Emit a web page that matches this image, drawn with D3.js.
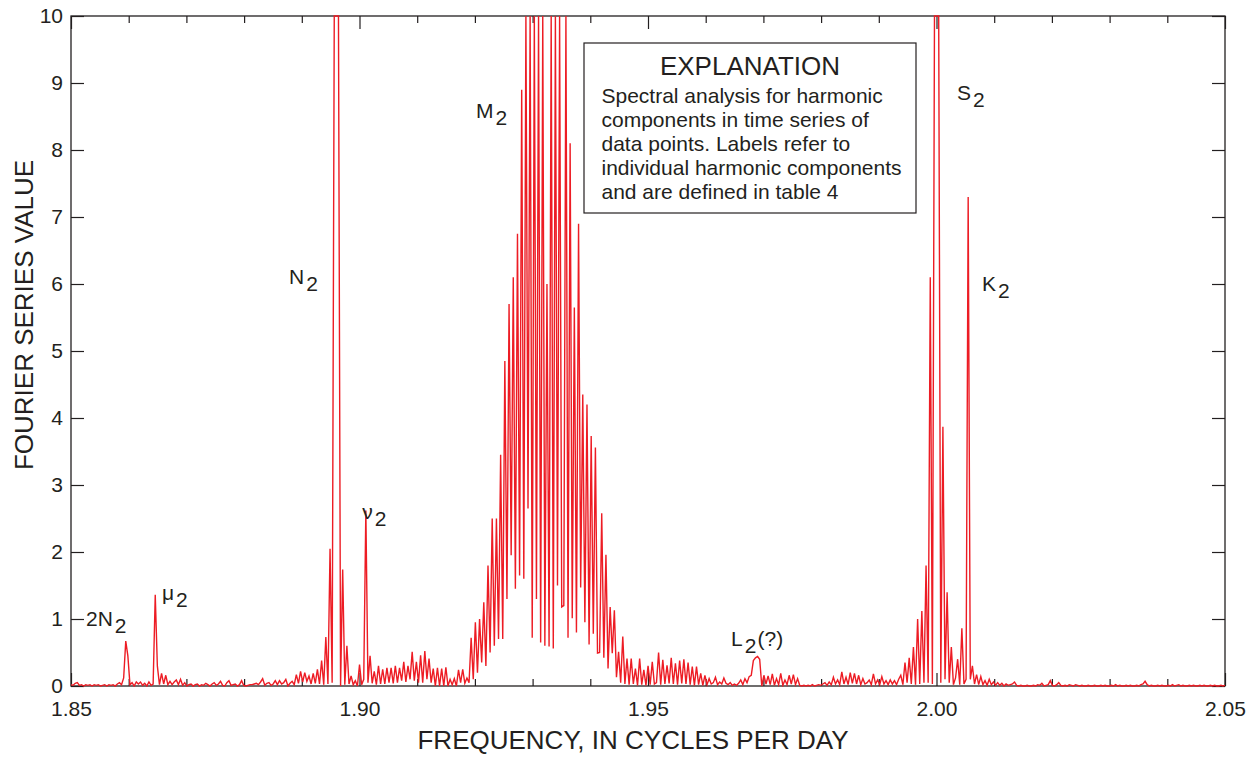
<!DOCTYPE html>
<html>
<head>
<meta charset="utf-8">
<script src="https://cdn.jsdelivr.net/npm/d3@7"></script>
<style>
  html, body { margin: 0; padding: 0; background: #fff; }
  svg text { font-family: "Liberation Sans", Arial, Helvetica, sans-serif; fill: #231f20; }
</style>
</head>
<body>
<svg id="chart" width="1255" height="757"></svg>
<script>
// Fourier spectrum of the semidiurnal band, sampled on a uniform frequency grid.
const FIRST_FREQ = 1.85;      // cycles per day at bin 0
const BIN_WIDTH = 0.000365;   // cycles per day between bins

// Spectral amplitude by band; each band starts at the bin given in `bands`.
const lowBand = [
  0.02,0.01,0.04,0.05,0.01,0.02,0.00,0.02,0.01,0.02,
  0.00,0.02,0.01,0.02,0.00,0.01,0.02,0.00,0.02,0.01,
  0.02,0.00,0.03,0.05,0.02,0.12,0.67,0.45,0.02,0.05,
  0.00,0.06,0.03,0.06,0.01,0.04,0.00,0.06,0.01,0.03,
  1.36,0.30,0.02,0.19,0.03,0.16,0.02,0.07,0.02,0.06,
  0.09,0.02,0.10,0.01,0.05,0.00,0.02,0.03,0.00,0.02,
  0.03,0.00,0.02,0.01,0.04,0.02,0.00,0.03,0.05,0.01,
  0.03,0.07,0.01,0.00,0.05,0.08,0.01,0.02,0.03,0.00,
  0.02,0.08,0.01,0.00,0.01,0.02,0.02,0.03,0.04,0.02,
  0.06,0.11,0.01,0.04,0.05,0.01,0.03,0.08,0.02,0.08,
  0.03,0.05,0.10,0.00,0.04,0.07,0.02,0.17,0.04,0.22,
  0.06,0.20,0.07,0.15,0.03,0.19,0.04,0.25,0.03,0.38,
  0.02,0.73,0.03,2.05,0.05
];
const n2Band = [
  40,60,40,0.00,1.74,0.02,0.60,0.03,0.15,0.02,
  0.08,0.00,0.32,0.02,0.10,2.62,0.05,0.45,0.04,0.22,
  0.02,0.30,0.03
];
const midBand = [
  0.25,0.03,0.27,0.05,0.27,0.04,0.30,0.05,0.27,0.08,
  0.36,0.06,0.30,0.10,0.51,0.08,0.36,0.05,0.46,0.05,
  0.52,0.10,0.41,0.05,0.26,0.00,0.27,0.00,0.26,0.00,
  0.28,0.00,0.10,0.02,0.11,0.00,0.24,0.05,0.25,0.04,
  0.12,0.05
];
const m2Band = [
  0.72,0.10,0.95,0.20,1.00,0.35,1.25,0.30,1.80,0.50,
  2.50,0.60,2.50,0.70,3.45,0.70,4.85,1.30,5.70,1.95,
  6.10,1.45,6.75,1.65,8.90,1.60,14,2.65,18,0.72,
  22,1.30,25,0.65,20,0.60,6.0,0.59,18,0.56,
  24,1.50,20,1.18,1.20,16,0.72,8.10,1.01,5.65,
  0.80,6.90,1.47,4.35,0.95,4.20,0.62,3.73,0.78,3.56,
  0.49,0.50,2.58,0.42,1.96,0.26,1.18,0.49,1.13,0.13,
  0.51,0.05,0.74,0.03,0.41,0.02,0.41
];
const l2Band = [
  0.03,0.26,0.01,0.41,0.02,0.24,0.01,0.30,0.02,0.36,
  0.03,0.05,0.50,0.02,0.39,0.03,0.31,0.04,0.42,0.03,
  0.34,0.02,0.38,0.04,0.40,0.03,0.35,0.02,0.29,0.01,
  0.29,0.02,0.19,0.01,0.16,0.02,0.11,0.03,0.05,0.13,
  0.02,0.06,0.03,0.12,0.04,0.02,0.05,0.01,0.03,0.01,
  0.04,0.09,0.02,0.11,0.05,0.14,0.16,0.38,0.42,0.44,
  0.40,0.00,0.16,0.03,0.15,0.02,0.18,0.01,0.11,0.02,
  0.19,0.01,0.09,0.02,0.16,0.03,0.17,0.02,0.11,0.01,
  0.00,0.01,0.00,0.01,0.00,0.02,0.00,0.01,0.02,0.01,
  0.03,0.05,0.01,0.06,0.02,0.13,0.03,0.09,0.02,0.21,
  0.03,0.13,0.02,0.20,0.04,0.19,0.03,0.16,0.02,0.11,
  0.03,0.05,0.09,0.02,0.18,0.03,0.09,0.02,0.14,0.03,
  0.08,0.02,0.09,0.03,0.08,0.02,0.10
];
const s2Band = [
  0.16,0.02,0.35,0.05,0.42,0.03,0.58,0.02,1.00,0.03,
  1.12,0.05,1.80,0.05,6.10,0.03,30,50,30,0.05,
  3.87,0.10,1.40,0.05,0.58,0.02,0.12,0.40,0.02,0.86,
  0.03,0.10,7.30,0.10,0.30,0.03,0.17
];
const highBand = [
  0.02,0.14,0.02,0.08,0.01,0.10,0.02,0.06,0.01,0.05,
  0.01,0.04,0.00,0.03,0.01,0.02,0.03,0.06,0.01,0.00,
  0.01,0.00,0.00,0.01,0.00,0.00,0.01,0.00,0.02,0.01,
  0.04,0.00,0.01,0.02,0.08,0.01,0.00,0.02,0.05,0.01,
  0.00,0.01,0.00,0.02,0.01,0.00,0.02,0.01,0.00,0.01,
  0.00,0.00,0.01,0.00,0.00,0.01,0.00,0.00,0.01,0.00,
  0.01,0.00,0.00,0.01,0.00,0.02,0.00,0.01,0.00,0.00,
  0.01,0.00,0.01,0.00,0.00,0.01,0.00,0.02,0.03,0.07,
  0.02,0.00,0.01,0.00,0.00,0.01,0.00,0.01,0.00,0.00,
  0.01,0.00,0.02,0.00,0.01,0.02,0.00,0.01,0.00,0.00,
  0.01,0.00,0.01,0.00,0.00,0.01,0.00,0.01,0.00,0.00,
  0.01,0.00,0.01,0.00,0.00,0.01,0.00,0.01
];
const bands = [
  [0, lowBand], [125, n2Band], [148, midBand], [190, m2Band],
  [267, l2Band], [394, s2Band], [431, highBand]
];

// Axis ticks
const majorFreqTicks = [1.85, 1.90, 1.95, 2.00, 2.05];
const majorFreqLabels = ["1.85", "1.90", "1.95", "2.00", "2.05"];
const minorFreqTicks = [1.86,1.87,1.88,1.89,1.91,1.92,1.93,1.94,1.96,1.97,1.98,1.99,2.01,2.02,2.03,2.04];
const valueTicks = [0,1,2,3,4,5,6,7,8,9,10];

// Harmonic component labels: main letter, subscript, anchor in data units
const componentLabels = [
  { main: "2N", sub: "2", f: 1.8526, v: 0.90 },
  { main: "\u03bc", sub: "2", f: 1.86575, v: 1.28 },
  { main: "N",  sub: "2", f: 1.88778, v: 6.00 },
  { main: "\u03bd", sub: "2", f: 1.90048, v: 2.49 },
  { main: "M",  sub: "2", f: 1.92020, v: 8.48 },
  { main: "S",  sub: "2", f: 2.00355, v: 8.75 },
  { main: "K",  sub: "2", f: 2.00788, v: 5.90 },
  { main: "L",  sub: "2", tail: "(?)", f: 1.96440, v: 0.60 }
];

const explanationTitle = "EXPLANATION";
const explanationLines = [
  "Spectral analysis for harmonic",
  "components in time series of",
  "data points. Labels refer to",
  "individual harmonic components",
  "and are defined in table 4"
];

// ---------------------------------------------------------------
const plot = { left: 71, right: 1225, top: 16, bottom: 686 };
const INK = "#231f20";
const RED = "#ed1c24";

const svg = d3.select("#chart");
const x = d3.scaleLinear().domain([1.85, 2.05]).range([plot.left, plot.right]);
const y = d3.scaleLinear().domain([0, 10]).range([plot.bottom, plot.top]).clamp(true);

const series = bands.flatMap(([firstBin, vals]) =>
  vals.map((v, k) => ({ f: FIRST_FREQ + (firstBin + k) * BIN_WIDTH, v })));

// Frame
svg.append("rect")
  .attr("x", plot.left).attr("y", plot.top)
  .attr("width", plot.right - plot.left).attr("height", plot.bottom - plot.top)
  .attr("fill", "none").attr("stroke", INK).attr("stroke-width", 1.3);

function styleAxis(g) {
  g.select(".domain").remove();
  g.selectAll(".tick line").attr("stroke", INK).attr("stroke-width", 1.2);
  g.selectAll(".tick text").attr("fill", INK)
    .style("font-family", '"Liberation Sans", Arial, Helvetica, sans-serif');
}

const labelFor = d => majorFreqLabels[majorFreqTicks.indexOf(d)];

// Bottom axis: labelled majors and unlabelled minors, ticks pointing inward
svg.append("g").attr("transform", `translate(0,${plot.bottom})`)
  .call(d3.axisBottom(x).tickValues(majorFreqTicks).tickFormat(labelFor)
    .tickSize(-13).tickPadding(15))
  .call(styleAxis)
  .call(g => g.selectAll(".tick text").attr("font-size", 21));
svg.append("g").attr("transform", `translate(0,${plot.bottom})`)
  .call(d3.axisBottom(x).tickValues(minorFreqTicks).tickFormat("").tickSize(-7))
  .call(styleAxis);

// Top axis
svg.append("g").attr("transform", `translate(0,${plot.top})`)
  .call(d3.axisTop(x).tickValues(majorFreqTicks).tickFormat("").tickSize(-13))
  .call(styleAxis);
svg.append("g").attr("transform", `translate(0,${plot.top})`)
  .call(d3.axisTop(x).tickValues(minorFreqTicks).tickFormat("").tickSize(-7))
  .call(styleAxis);

// Left and right value axes
svg.append("g").attr("transform", `translate(${plot.left},0)`)
  .call(d3.axisLeft(y).tickValues(valueTicks).tickFormat(d3.format("d"))
    .tickSize(-13).tickPadding(8))
  .call(styleAxis)
  .call(g => g.selectAll(".tick text").attr("font-size", 21));
svg.append("g").attr("transform", `translate(${plot.right},0)`)
  .call(d3.axisRight(y).tickValues(valueTicks).tickFormat("").tickSize(-13))
  .call(styleAxis);

// Spectrum line
svg.append("clipPath").attr("id", "plot-clip")
  .append("rect")
  .attr("x", plot.left).attr("y", plot.top - 1)
  .attr("width", plot.right - plot.left).attr("height", plot.bottom - plot.top + 2);

svg.append("path")
  .datum(series)
  .attr("clip-path", "url(#plot-clip)")
  .attr("fill", "none")
  .attr("stroke", RED)
  .attr("stroke-width", 1.4)
  .attr("stroke-linejoin", "miter")
  .attr("d", d3.line().x(d => x(d.f)).y(d => y(d.v)));

// Component labels
const lab = svg.append("g").attr("font-size", 21);
componentLabels.forEach(c => {
  const t = lab.append("text").attr("x", x(c.f)).attr("y", y(c.v));
  t.append("tspan").text(c.main);
  t.append("tspan").attr("dx", 2).attr("dy", 7).text(c.sub);
  if (c.tail) t.append("tspan").attr("dx", 1).attr("dy", -7).text(c.tail);
});

// Explanation box
const box = { x: 584, y: 43, w: 332, h: 170 };
svg.append("rect")
  .attr("x", box.x).attr("y", box.y).attr("width", box.w).attr("height", box.h)
  .attr("fill", "#fff").attr("stroke", INK).attr("stroke-width", 1.2);
svg.append("text")
  .attr("x", box.x + box.w / 2).attr("y", box.y + 32)
  .attr("text-anchor", "middle").attr("font-size", 26)
  .text(explanationTitle);
svg.append("g").selectAll("text").data(explanationLines).join("text")
  .attr("x", box.x + 17.5)
  .attr("y", (d, i) => box.y + 60 + i * 24)
  .attr("font-size", 21)
  .text(d => d);

// Axis titles
svg.append("text")
  .attr("x", 633).attr("y", 749)
  .attr("text-anchor", "middle").attr("font-size", 26)
  .text("FREQUENCY, IN CYCLES PER DAY");
svg.append("text")
  .attr("transform", "translate(33,315) rotate(-90)")
  .attr("text-anchor", "middle").attr("font-size", 26)
  .text("FOURIER SERIES VALUE");
</script>
</body>
</html>
